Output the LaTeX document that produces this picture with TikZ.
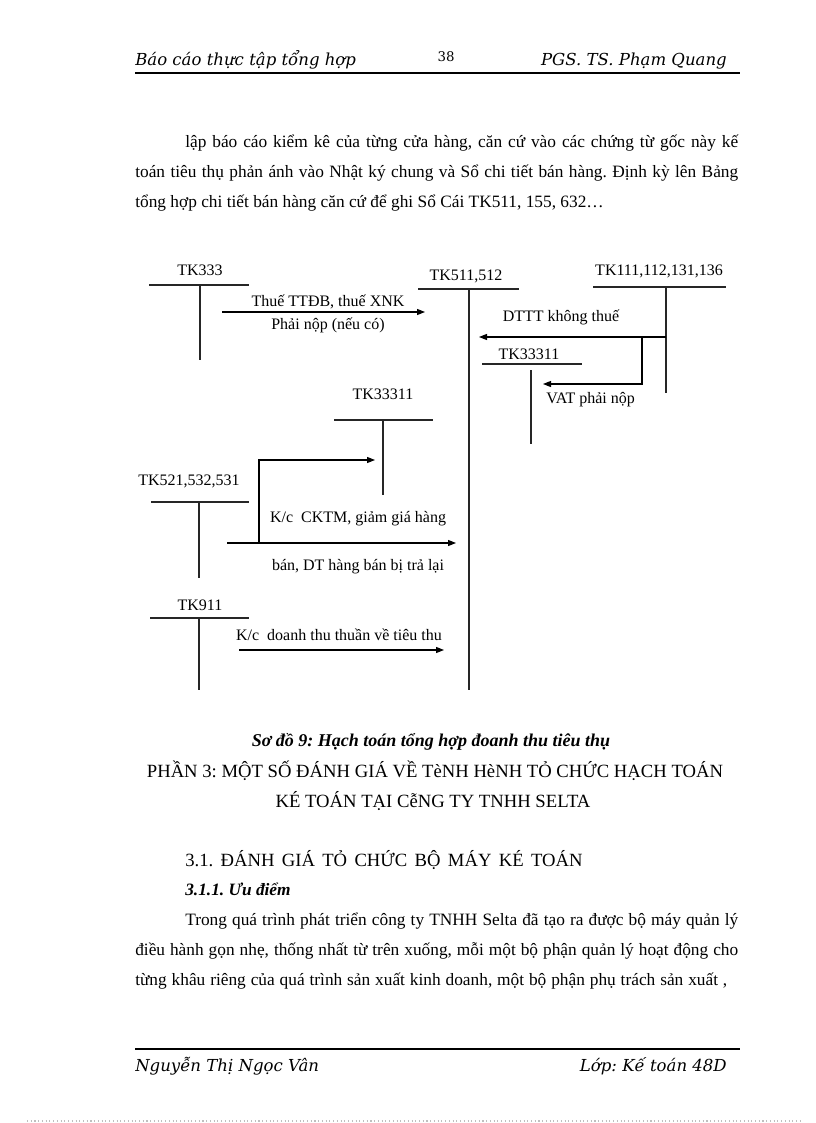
\documentclass[tikz,border=0pt]{standalone}
\usepackage{fontspec}
\setmainfont{Liberation Serif}
\newfontfamily\headfont{DejaVu Serif}
\usetikzlibrary{arrows.meta}
\frenchspacing

\begin{document}
\begin{tikzpicture}[x=0.75pt, y=-0.75pt,
  acc/.style={font=\fontsize{12}{14}\selectfont, inner sep=0pt, anchor=base},
  lbl/.style={font=\fontsize{12}{14}\selectfont, inner sep=0pt, anchor=base},
  tline/.style={line width=0.8pt, black!85},
  arr/.style={-{Triangle[length=6pt, width=4.5pt]}, line width=0.8pt},
  body/.style={font=\fontsize{13}{15}\selectfont, inner sep=0pt, anchor=base west},
  head/.style={font=\headfont\itshape\fontsize{12.4}{14}\selectfont, inner sep=0pt},
  caps/.style={font=\fontsize{14}{16}\selectfont, inner sep=0pt, anchor=base},
]
  \useasboundingbox (0,0) rectangle (816,1123);

  % page header
  \node[head, anchor=base west] (htitle) at (135,66) {Báo cáo thực tập tổng hợp};
  \node[font=\headfont\fontsize{10}{12}\selectfont, inner sep=0pt, anchor=base] (hpage) at (446,62) {38};
  \node[head, anchor=base east] (hauthor) at (727,66) {PGS. TS. Phạm Quang};
  \draw[line width=1.5pt] (135,73) -- (740,73);

  % text above the diagram
  \node[body] (p1) at (185,148) {\makebox[414.75pt][s]{lập báo cáo kiểm kê của từng cửa hàng, căn cứ vào các chứng từ gốc này kế}};
  \node[body] (p2) at (135,178) {\makebox[452.25pt][s]{toán tiêu thụ phản ánh vào Nhật ký chung và Sổ chi tiết bán hàng. Định kỳ lên Bảng}};
  \node[body] (p3) at (135,208) {tổng hợp chi tiết bán hàng căn cứ để ghi Sổ Cái TK511, 155, 632…};

  % accounts
  \node[acc] (tk333) at (200,275) {TK333};
  \draw[tline] (149,285) -- (249,285);
  \draw[tline] (200,285) -- (200,360);

  \node[acc] (tk511) at (466,280) {TK511,512};
  \draw[tline] (418,289) -- (519,289);
  \draw[tline] (469,289) -- (469,690);

  \node[acc] (tk111) at (659,275) {TK111,112,131,136};
  \draw[tline] (593,287) -- (726,287);
  \draw[tline] (666,287) -- (666,393);

  \node[acc] (tk33311a) at (529,359) {TK33311};
  \draw[tline] (482,364) -- (582,364);
  \draw[tline] (531,370) -- (531,444);

  \node[acc] (tk33311b) at (383,399) {TK33311};
  \draw[tline] (334,420) -- (433,420);
  \draw[tline] (383,420) -- (383,495);

  \node[acc] (tk521) at (189,485) {TK521,532,531};
  \draw[tline] (151,502) -- (249,502);
  \draw[tline] (199,502) -- (199,578);

  \node[acc] (tk911) at (200,610) {TK911};
  \draw[tline] (150,618) -- (249,618);
  \draw[tline] (199,618) -- (199,690);

  % connectors
  \coordinate (a1s) at (222,312);
  \coordinate (a1e) at (425,312);
  \draw[arr] (a1s) -- (a1e);
  \node[lbl] (l1a) at (328,306) {Thuế TTĐB, thuế XNK};
  \node[lbl] (l1b) at (328,329) {Phải nộp (nếu có)};

  \coordinate (a2s) at (666,337);
  \coordinate (a2e) at (479,337);
  \draw[arr] (a2s) -- (a2e);
  \node[lbl] (l2) at (561,321) {DTTT không thuế};

  \coordinate (a3s) at (642,337);
  \coordinate (a3e) at (543,384);
  \draw[arr] (a3s) |- (a3e);
  \node[lbl, anchor=base west] (l3) at (546,403) {VAT phải nộp};

  \coordinate (a4s) at (227,543);
  \coordinate (a4e) at (456,543);
  \draw[arr] (a4s) -- (a4e);
  \coordinate (a5s) at (259,543);
  \coordinate (a5e) at (375,460);
  \draw[arr] (a5s) |- (a5e);
  \node[lbl] (l4a) at (358,522) {K/c\ \ CKTM, giảm giá hàng};
  \node[lbl] (l4b) at (358,570) {bán, DT hàng bán bị trả lại};

  \coordinate (a6s) at (239,650);
  \coordinate (a6e) at (444,650);
  \draw[arr] (a6s) -- (a6e);
  \node[lbl] (l6) at (339,640) {K/c\ \ doanh thu thuần về tiêu thu};

  % caption and next section
  \node[font=\bfseries\itshape\fontsize{13.5}{15}\selectfont, inner sep=0pt, anchor=base] (cap) at (431,746) {Sơ đồ 9: Hạch toán tổng hợp đoanh thu tiêu thụ};
  \node[caps] (part1) at (435,777) {PHẦN 3: MỘT SỐ ĐÁNH GIÁ VỀ TèNH HèNH TỎ CHỨC HẠCH TOÁN};
  \node[caps] (part2) at (433,807) {KÉ TOÁN TẠI CễNG TY TNHH SELTA};

  \node[body, font=\fontsize{14}{16}\selectfont] (sec) at (185,866) {\makebox[298pt][s]{3.1. ĐÁNH GIÁ TỎ CHỨC BỘ MÁY KÉ TOÁN}};
  \node[body, font=\bfseries\itshape\fontsize{13}{15}\selectfont] (subsec) at (185,895) {3.1.1. Ưu điểm};
  \node[body] (q1) at (185,925) {\makebox[414.75pt][s]{Trong quá trình phát triển công ty TNHH Selta đã tạo ra được bộ máy quản lý}};
  \node[body] (q2) at (135,955) {\makebox[452.25pt][s]{điều hành gọn nhẹ, thống nhất từ trên xuống, mỗi một bộ phận quản lý hoạt động cho}};
  \node[body] (q3) at (135,985) {\makebox[444pt][s]{từng khâu riêng của quá trình sản xuất kinh doanh, một bộ phận phụ trách sản xuất ,}};

  % page footer
  \draw[line width=1.8pt] (135,1049) -- (740,1049);
  \node[head, anchor=base west] (fname) at (135,1071) {Nguyễn Thị Ngọc Vân};
  \node[head, anchor=base east] (fclass) at (727,1071) {Lớp: Kế toán 48D};
  \draw[black!25, dotted, line width=0.8pt] (27,1121) -- (800,1121);
\end{tikzpicture}
\end{document}
